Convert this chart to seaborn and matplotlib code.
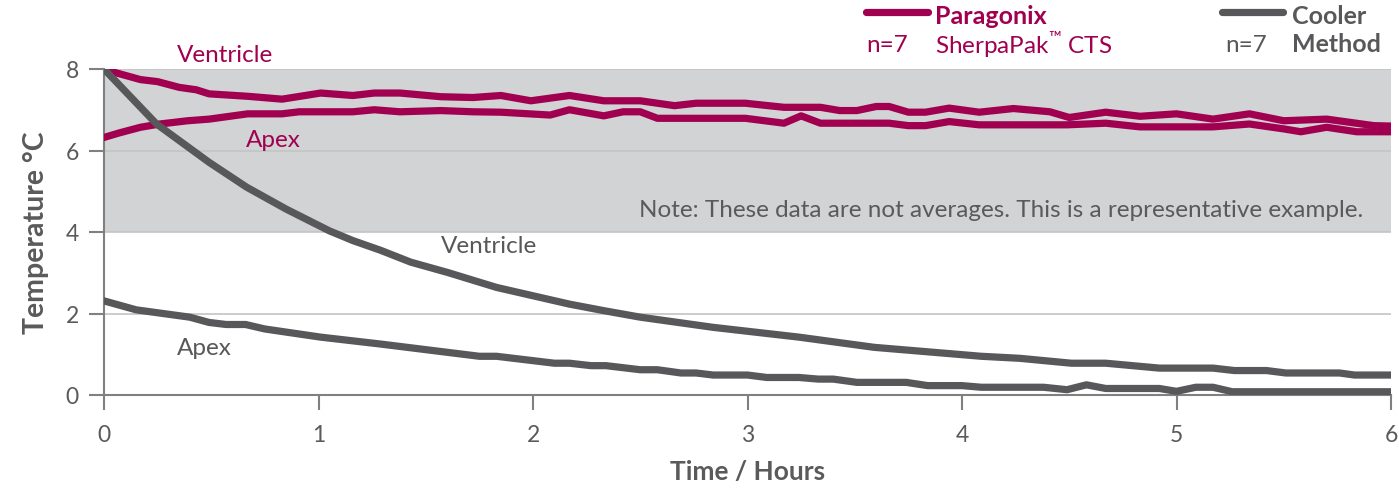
import numpy as np
import pandas as pd
import matplotlib
matplotlib.use("Agg")
import matplotlib.pyplot as plt
from matplotlib.lines import Line2D
import seaborn as sns

# ---- data ----
par_vent_t = [0, 0.04, 0.17, 0.25, 0.35, 0.43, 0.49, 0.67, 0.83, 1.01,
              1.16, 1.26, 1.38, 1.57, 1.72, 1.85, 1.99, 2.17, 2.33, 2.50,
              2.66, 2.76, 2.99, 3.17, 3.34, 3.43, 3.51, 3.60, 3.66, 3.75,
              3.83, 3.94, 4.08, 4.24, 4.41, 4.50, 4.67, 4.83, 5.00, 5.17,
              5.34, 5.50, 5.70, 5.92, 6.00]
par_vent_v = [8.00, 7.93, 7.74, 7.69, 7.55, 7.49, 7.39, 7.33, 7.26, 7.41,
              7.35, 7.41, 7.41, 7.32, 7.30, 7.35, 7.22, 7.35, 7.22, 7.22,
              7.10, 7.16, 7.16, 7.06, 7.06, 6.98, 6.98, 7.08, 7.08, 6.94,
              6.94, 7.04, 6.94, 7.03, 6.95, 6.81, 6.94, 6.84, 6.90, 6.77,
              6.90, 6.73, 6.77, 6.61, 6.60]

par_apex_t = [0, 0.07, 0.17, 0.26, 0.39, 0.49, 0.67, 0.83, 0.91, 1.16,
              1.26, 1.38, 1.57, 1.72, 1.85, 2.08, 2.17, 2.33, 2.42, 2.50,
              2.58, 2.99, 3.17, 3.25, 3.34, 3.66, 3.75, 3.83, 3.94, 4.08,
              4.49, 4.67, 4.83, 5.17, 5.34, 5.50, 5.58, 5.70, 5.84, 6.00]
par_apex_v = [6.32, 6.43, 6.57, 6.65, 6.73, 6.77, 6.90, 6.90, 6.95, 6.95,
              7.00, 6.95, 6.98, 6.95, 6.94, 6.87, 7.00, 6.85, 6.95, 6.95,
              6.79, 6.79, 6.67, 6.85, 6.67, 6.67, 6.61, 6.61, 6.71, 6.63,
              6.63, 6.67, 6.58, 6.58, 6.65, 6.53, 6.46, 6.57, 6.46, 6.46]

cool_vent_t = [0, 0.245, 0.49, 0.665, 0.85, 1.05, 1.16, 1.29, 1.43, 1.60,
               1.83, 2.17, 2.33, 2.50, 2.84, 3.24, 3.59, 3.84, 4.09, 4.27,
               4.51, 4.67, 4.92, 5.17, 5.27, 5.42, 5.51, 5.76, 5.83, 6.00]
cool_vent_v = [8.0, 6.65, 5.71, 5.10, 4.56, 4.03, 3.79, 3.55, 3.26, 3.01,
               2.64, 2.23, 2.07, 1.91, 1.66, 1.42, 1.17, 1.06, 0.95, 0.90,
               0.78, 0.78, 0.66, 0.66, 0.60, 0.60, 0.54, 0.54, 0.49, 0.49]

cool_apex_t = [0, 0.15, 0.40, 0.49, 0.57, 0.66, 0.75, 1.01, 1.29, 1.75,
               1.83, 2.10, 2.17, 2.27, 2.34, 2.50, 2.58, 2.69, 2.76, 2.84,
               3.00, 3.09, 3.24, 3.33, 3.40, 3.51, 3.74, 3.84, 4.00, 4.09,
               4.38, 4.49, 4.58, 4.67, 4.92, 5.00, 5.09, 5.17, 5.26, 6.00]
cool_apex_v = [2.31, 2.09, 1.91, 1.78, 1.73, 1.73, 1.62, 1.42, 1.25, 0.95,
               0.95, 0.78, 0.78, 0.72, 0.72, 0.62, 0.62, 0.54, 0.54, 0.49,
               0.49, 0.43, 0.43, 0.39, 0.39, 0.31, 0.31, 0.23, 0.23, 0.19,
               0.19, 0.13, 0.25, 0.16, 0.16, 0.09, 0.19, 0.19, 0.08, 0.08]

x_ticks = [0, 1, 2, 3, 4, 5, 6]
y_ticks = [0, 2, 4, 6, 8]

MAGENTA = "#A0004F"
GRAY = "#58585A"
TXT = "#5A5A5A"

frames = []
for name, t, v in [("Paragonix Ventricle", par_vent_t, par_vent_v),
                   ("Paragonix Apex", par_apex_t, par_apex_v),
                   ("Cooler Ventricle", cool_vent_t, cool_vent_v),
                   ("Cooler Apex", cool_apex_t, cool_apex_v)]:
    frames.append(pd.DataFrame({"time": t, "temp": v, "series": name}))
df = pd.concat(frames, ignore_index=True)

palette = {"Paragonix Ventricle": MAGENTA, "Paragonix Apex": MAGENTA,
           "Cooler Ventricle": GRAY, "Cooler Apex": GRAY}

sns.set_theme(style="white")
plt.rcParams["font.family"] = ["Lato", "DejaVu Sans"]
plt.rcParams["mathtext.fontset"] = "custom"
plt.rcParams["mathtext.rm"] = "Lato"

fig = plt.figure(figsize=(13.99, 4.89), dpi=100)
ax = fig.add_axes([104 / 1399, 1 - 396 / 489, (1391 - 104) / 1399, (396 - 70) / 489])

# grey band 4-8 C and gridlines
ax.axhspan(4, 8, color="#D1D3D4", zorder=0, lw=0)
for g in [2, 4, 6, 8]:
    ax.axhline(g, color="#C4C4C4", lw=1.2, zorder=1)

sns.lineplot(data=df, x="time", y="temp", hue="series", palette=palette,
             hue_order=list(palette.keys()), estimator=None, sort=False,
             lw=5.2, legend=False, ax=ax, zorder=3)
for ln in ax.get_lines():
    ln.set_solid_joinstyle("round")

ax.set_xlim(0, 6)
ax.set_ylim(0, 8)
ax.set_xticks(x_ticks)
ax.set_yticks(y_ticks)
ax.tick_params(axis="both", colors="#808080", labelcolor=TXT, labelsize=16.5,
               length=11, width=1.5, direction="out", bottom=True, left=True)
ax.tick_params(axis="y", pad=7)
ax.tick_params(axis="x", pad=10)
for s in ["top", "right"]:
    ax.spines[s].set_visible(False)
for s in ["left", "bottom"]:
    ax.spines[s].set_color("#808080")
    ax.spines[s].set_linewidth(1.5)

ax.set_xlabel("Time / Hours", fontsize=19, fontweight="bold", color=TXT, labelpad=10)
ax.set_ylabel("Temperature °C", fontsize=20.5, fontweight="bold", color=TXT, labelpad=12)

# curve labels
ax.text(0.34, 8.1, "Ventricle", color=MAGENTA, fontsize=17.5, va="bottom")
ax.text(0.66, 6.27, "Apex", color=MAGENTA, fontsize=17.5, va="center")
ax.text(1.57, 3.67, "Ventricle", color=GRAY, fontsize=17.5, va="center")
ax.text(0.34, 1.17, "Apex", color=GRAY, fontsize=17.5, va="center")
ax.text(5.87, 4.55, "Note: These data are not averages. This is a representative example.",
        color=TXT, fontsize=17.5, ha="right", va="center")

# manual legend (figure pixel coords)
W, H = 1399, 489
def fx(px):
    return px / W
def fy(py):
    return 1 - py / H

fig.add_artist(Line2D([fx(866), fx(928)], [fy(13), fy(13)], color=MAGENTA, lw=5.2))
fig.text(fx(935), fy(16), "Paragonix", color=MAGENTA, fontsize=18, fontweight="bold", va="center")
fig.text(fx(866), fy(45), "n=7", color=MAGENTA, fontsize=17.5, va="center")
fig.text(fx(935), fy(45), r"SherpaPak$^{™}$ CTS", color=MAGENTA, fontsize=17.5, va="center")

fig.add_artist(Line2D([fx(1222), fx(1283)], [fy(13), fy(13)], color=GRAY, lw=5.2))
fig.text(fx(1292), fy(16), "Cooler", color=GRAY, fontsize=18, fontweight="bold", va="center")
fig.text(fx(1225), fy(45), "n=7", color=GRAY, fontsize=17.5, va="center")
fig.text(fx(1292), fy(45), "Method", color=GRAY, fontsize=18, fontweight="bold", va="center")

fig.savefig("out.png", dpi=100)
